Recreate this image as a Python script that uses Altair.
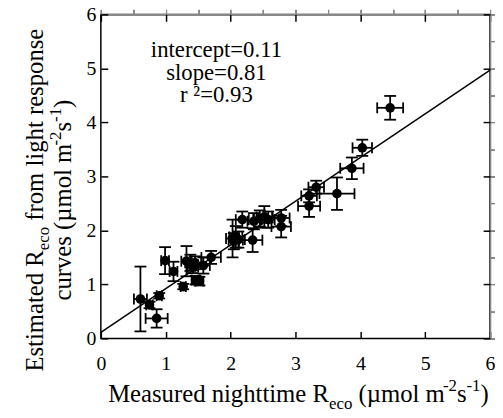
import altair as alt
import pandas as pd

# ---------------- data ----------------
meas_x = [0.61, 0.86, 0.75, 0.90, 0.99, 1.12, 1.27, 1.32, 1.38, 1.45, 1.46, 1.52, 1.58, 1.70, 1.42,
          2.03, 2.08, 2.12, 2.05, 2.18, 2.34, 2.36, 2.45, 2.52, 2.58, 2.78, 2.78,
          3.21, 3.21, 3.32, 3.64, 3.87, 4.03, 4.46]
est_y = [0.73, 0.37, 0.62, 0.79, 1.44, 1.24, 0.96, 1.43, 1.40, 1.40, 1.08, 1.06, 1.35, 1.50, 1.33,
         1.85, 1.88, 1.83, 1.80, 2.20, 1.82, 2.17, 2.22, 2.25, 2.20, 2.23, 2.07,
         2.45, 2.64, 2.80, 2.68, 3.15, 3.53, 4.27]
x_err = [0.10, 0.17, 0.05, 0.04, 0.06, 0.06, 0.04, 0.08, 0.08, 0.10, 0.06, 0.06, 0.10, 0.15, 0.08,
         0.10, 0.10, 0.10, 0.08, 0.10, 0.15, 0.10, 0.10, 0.12, 0.10, 0.13, 0.15,
         0.17, 0.12, 0.12, 0.27, 0.18, 0.15, 0.20]
y_err = [0.60, 0.17, 0.06, 0.05, 0.25, 0.18, 0.05, 0.28, 0.15, 0.12, 0.08, 0.08, 0.15, 0.12, 0.12,
         0.35, 0.20, 0.15, 0.15, 0.15, 0.22, 0.15, 0.15, 0.20, 0.15, 0.15, 0.20,
         0.20, 0.12, 0.12, 0.30, 0.20, 0.15, 0.22]
intercept = 0.11
slope = 0.81
r2 = 0.93
line_x = [0, 6]
ticks = [0, 1, 2, 3, 4, 5, 6]
stats_text = ["intercept=0.11", "slope=0.81", "r \u00b2=0.93"]

df = pd.DataFrame({"x": meas_x, "y": est_y, "xe": x_err, "ye": y_err})
df["xlo"] = df.x - df.xe
df["xhi"] = df.x + df.xe
df["ylo"] = df.y - df.ye
df["yhi"] = df.y + df.ye
line_df = pd.DataFrame({"x": line_x, "y": [intercept + slope * v for v in line_x]})

FONT = "Liberation Serif"
W_PLOT, H_PLOT = 394, 328

xs = alt.Scale(domain=[0, 6], nice=False, zero=False)
ys = alt.Scale(domain=[0, 6], nice=False, zero=False)

def ax(orient, labels=True, pad=6):
    return alt.Axis(orient=orient, values=ticks, offset=-7, tickSize=7, tickWidth=1.5,
                    tickColor="black", domain=False, grid=False, labels=labels,
                    labelFont=FONT, labelFontSize=20, labelColor="black",
                    labelPadding=pad, labelFlush=False, title=None)

base = alt.Chart(df)

points = base.mark_circle(size=95, color="black", opacity=1).encode(
    x=alt.X("x:Q", scale=xs, axis=ax("bottom", pad=15)),
    y=alt.Y("y:Q", scale=ys, axis=ax("left", pad=5)),
)
hbar = base.mark_rule(color="black", strokeWidth=1.8).encode(
    x=alt.X("xlo:Q", scale=xs), x2="xhi:Q", y=alt.Y("y:Q", scale=ys))
vbar = base.mark_rule(color="black", strokeWidth=1.8).encode(
    y=alt.Y("ylo:Q", scale=ys), y2="yhi:Q", x=alt.X("x:Q", scale=xs))
caps = []
for f in ["xlo", "xhi"]:
    caps.append(base.mark_tick(orient="vertical", size=11, thickness=1.8, color="black", opacity=1).encode(
        x=alt.X(f + ":Q", scale=xs), y=alt.Y("y:Q", scale=ys)))
for f in ["ylo", "yhi"]:
    caps.append(base.mark_tick(orient="horizontal", size=12, thickness=1.8, color="black", opacity=1).encode(
        x=alt.X("x:Q", scale=xs), y=alt.Y(f + ":Q", scale=ys)))

reg = alt.Chart(line_df).mark_line(color="black", strokeWidth=1.5).encode(
    x=alt.X("x:Q", scale=xs, axis=ax("top", labels=False)),
    y=alt.Y("y:Q", scale=ys, axis=ax("right", labels=False)),
)

# ---------------- rich-text titles ----------------
WID = {" ": 250, "(": 333, ")": 333, "-": 333, "1": 500, "2": 500, "E": 611, "M": 889, "R": 667,
       "a": 444, "c": 444, "d": 500, "e": 444, "f": 333, "g": 500, "h": 500, "i": 278, "l": 278,
       "m": 778, "n": 500, "o": 500, "p": 500, "r": 333, "s": 389, "t": 278, "u": 500, "v": 500,
       "\u00b5": 500}

def tw(t, fs):
    return sum(WID.get(c, 500) for c in t) / 1000 * fs

def rich(segs, fs, center, base_pos, vertical=False):
    small = 0.68 * fs
    items = []
    off = 0
    for t, k in segs:
        size = fs if k == "n" else small
        shift = 0 if k == "n" else (0.28 * fs if k == "sub" else -0.42 * fs)
        stripped = t.lstrip(" ")
        off += tw(t[: len(t) - len(stripped)], size)
        items.append((stripped, size, off, shift))
        off += tw(stripped, size)
    total = off
    layers = []
    for t, size, o, shift in items:
        if not vertical:
            px, py, ang = center - total / 2 + o, base_pos + shift, 0
        else:
            px, py, ang = base_pos + shift, center + total / 2 - o, 270
        layers.append(alt.Chart(pd.DataFrame({"t": [t]})).mark_text(
            font=FONT, fontSize=size, align="left", baseline="alphabetic", angle=ang,
            color="black").encode(text="t:N", x=alt.value(px), y=alt.value(py)))
    return layers

TFS = 25
x_title = rich([("Measured nighttime R", "n"), ("eco", "sub"), (" (\u00b5mol m", "n"),
                ("-2", "sup"), ("s", "n"), ("-1", "sup"), (")", "n")], TFS, 200, 392)
y_title1 = rich([("Estimated R", "n"), ("eco", "sub"), (" from light response", "n")],
                TFS, 188, -59, vertical=True)
y_title2 = rich([("curves (\u00b5mol m", "n"), ("-2", "sup"), ("s", "n"), ("-1", "sup"), (")", "n")],
                TFS, 188, -30, vertical=True)

ann = []
for i, s in enumerate(stats_text):
    ann.append(alt.Chart(pd.DataFrame({"t": [s]})).mark_text(
        font=FONT, fontSize=23, align="center", baseline="middle", color="black").encode(
        text="t:N", x=alt.value(117), y=alt.value(36 + 23 * i)))

chart = alt.layer(points, hbar, vbar, *caps, reg, *x_title, *y_title1, *y_title2, *ann).resolve_axis(
    x="independent", y="independent"
).properties(
    width=W_PLOT, height=H_PLOT, autosize="none",
    padding={"left": 94, "top": 4, "right": 5, "bottom": 70},
).configure_view(stroke="black", strokeWidth=1.5)

chart.save("out.html", embed_options={"renderer": "svg", "actions": False})
